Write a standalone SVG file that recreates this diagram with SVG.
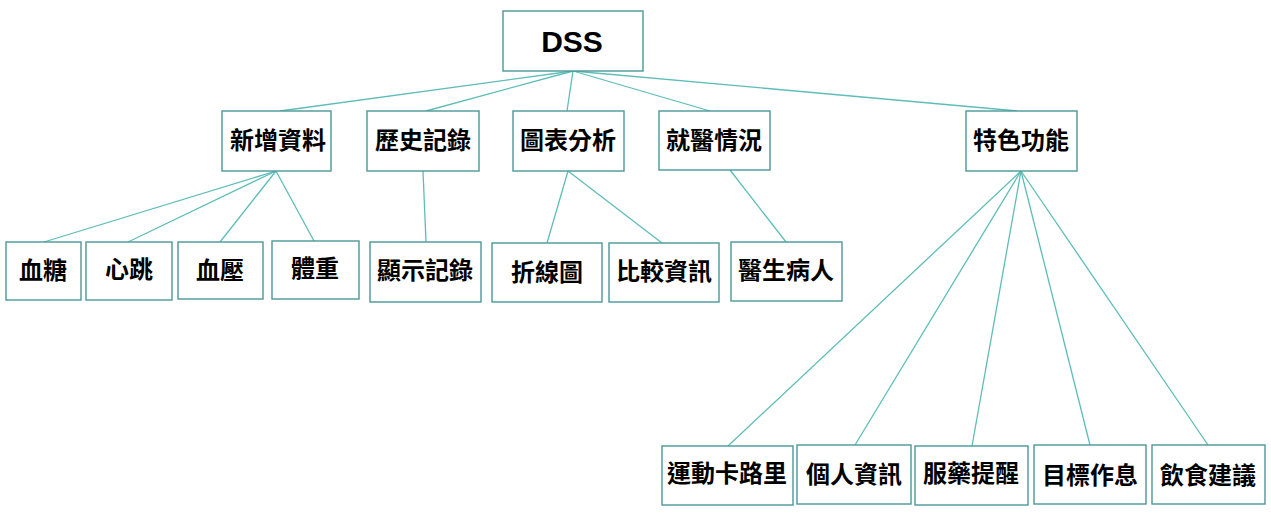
<svg xmlns="http://www.w3.org/2000/svg" width="1271" height="520" viewBox="0 0 1271 520">
<style>
.box{fill:#fff;stroke:#4a9896;stroke-width:1.4}
.lbl{font-family:"Liberation Sans","Noto Sans CJK TC",sans-serif;font-weight:bold;font-size:24px;fill:#000;text-anchor:middle;dominant-baseline:central}
.dss{font-size:30px}
.edges line{stroke:#5ebdb8;stroke-width:1.3}
</style>
<rect width="1271" height="520" fill="#fff"/>
<g class="edges">
<line x1="573" y1="71" x2="280" y2="111"/>
<line x1="573" y1="71" x2="426" y2="111"/>
<line x1="573" y1="71" x2="567" y2="111"/>
<line x1="573" y1="71" x2="710" y2="111"/>
<line x1="573" y1="71" x2="1018" y2="111"/>
<line x1="276" y1="171" x2="44" y2="242"/>
<line x1="276" y1="171" x2="128" y2="242"/>
<line x1="276" y1="171" x2="220" y2="242"/>
<line x1="276" y1="171" x2="314" y2="241"/>
<line x1="423" y1="171" x2="426" y2="242"/>
<line x1="568" y1="171" x2="547" y2="243"/>
<line x1="568" y1="171" x2="662" y2="243"/>
<line x1="730" y1="170" x2="786" y2="242"/>
<line x1="1021" y1="171" x2="728" y2="446"/>
<line x1="1021" y1="171" x2="855" y2="445"/>
<line x1="1021" y1="171" x2="972" y2="446"/>
<line x1="1021" y1="171" x2="1090" y2="445"/>
<line x1="1021" y1="171" x2="1208" y2="445"/>
</g>
<g id="dss"><rect class="box" x="503" y="11" width="140" height="60"/><text class="lbl dss" x="572" y="41">DSS</text></g>
<g id="n1"><rect class="box" x="222" y="111" width="109" height="60"/><text class="lbl" x="278" y="140">新增資料</text></g>
<g id="n2"><rect class="box" x="367" y="111" width="112" height="60"/><text class="lbl" x="423" y="140">歷史記錄</text></g>
<g id="n3"><rect class="box" x="513" y="111" width="111" height="60"/><text class="lbl" x="568" y="140">圖表分析</text></g>
<g id="n4"><rect class="box" x="659" y="111" width="111" height="59"/><text class="lbl" x="714" y="140">就醫情況</text></g>
<g id="n5"><rect class="box" x="966" y="111" width="111" height="60"/><text class="lbl" x="1021" y="140">特色功能</text></g>
<g id="n11"><rect class="box" x="6" y="242" width="75" height="58"/><text class="lbl" x="43" y="270">血糖</text></g>
<g id="n12"><rect class="box" x="86" y="242" width="86" height="58"/><text class="lbl" x="129" y="269">心跳</text></g>
<g id="n13"><rect class="box" x="178" y="242" width="85" height="57"/><text class="lbl" x="220" y="270">血壓</text></g>
<g id="n14"><rect class="box" x="272" y="241" width="87" height="58"/><text class="lbl" x="315" y="268">體重</text></g>
<g id="n21"><rect class="box" x="370" y="242" width="111" height="60"/><text class="lbl" x="425" y="270">顯示記錄</text></g>
<g id="n31"><rect class="box" x="492" y="243" width="110" height="59"/><text class="lbl" x="547" y="272">折線圖</text></g>
<g id="n32"><rect class="box" x="609" y="243" width="110" height="59"/><text class="lbl" x="664" y="271">比較資訊</text></g>
<g id="n41"><rect class="box" x="731" y="242" width="111" height="59"/><text class="lbl" x="786" y="270">醫生病人</text></g>
<g id="n51"><rect class="box" x="662" y="446" width="131" height="59"/><text class="lbl" x="727" y="473">運動卡路里</text></g>
<g id="n52"><rect class="box" x="797" y="445" width="114" height="59"/><text class="lbl" x="854" y="474">個人資訊</text></g>
<g id="n53"><rect class="box" x="915" y="446" width="113" height="59"/><text class="lbl" x="971" y="473">服藥提醒</text></g>
<g id="n54"><rect class="box" x="1034" y="445" width="112" height="59"/><text class="lbl" x="1090" y="475">目標作息</text></g>
<g id="n55"><rect class="box" x="1152" y="445" width="113" height="59"/><text class="lbl" x="1208" y="475">飲食建議</text></g>
</svg>
